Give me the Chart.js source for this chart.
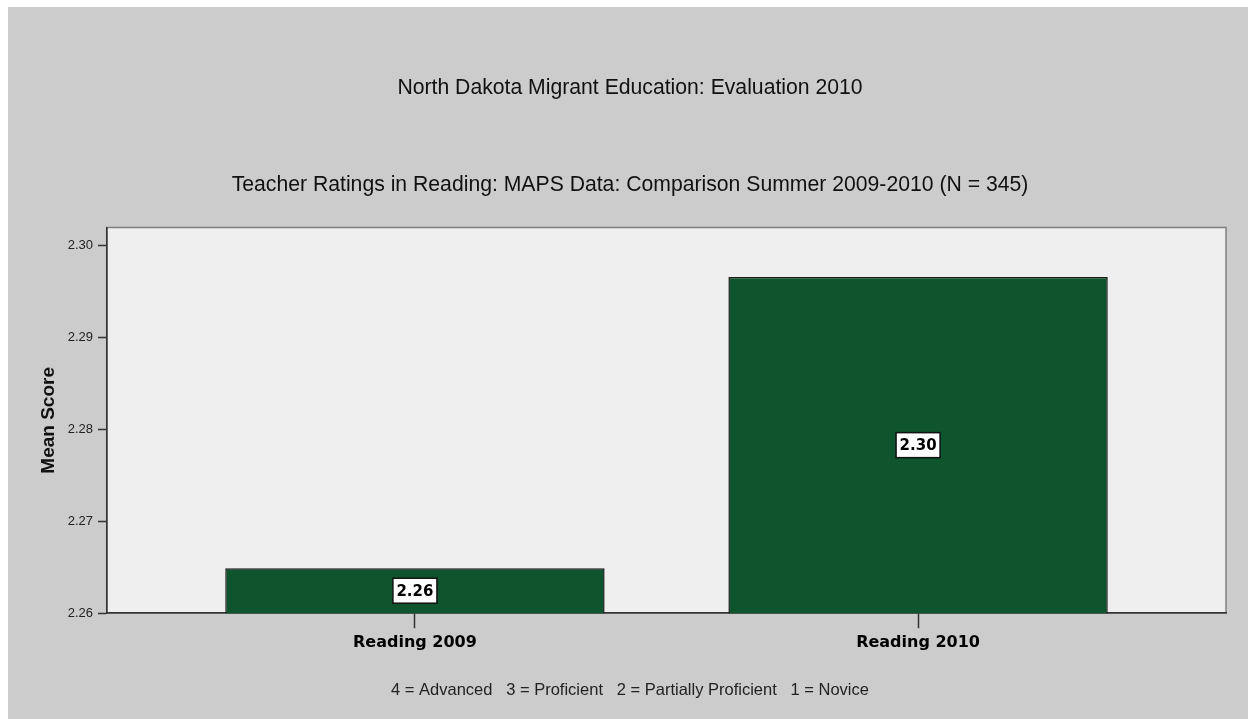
<!DOCTYPE html>
<html lang="en">

<head>
    <meta charset="UTF-8">
    <title>North Dakota Migrant Education: Evaluation 2010</title>
    <script src="https://cdn.jsdelivr.net/npm/chart.js@4.4.0/dist/chart.umd.min.js"></script>
    <style>
        body { margin: 0; background: #ffffff; }
        #chart { position: absolute; left: 8px; top: 7px; }
    </style>
</head>

<body>

    <canvas id="chart" width="1240" height="712"></canvas>

    <script>
        // values
        const categories = ['Reading 2009', 'Reading 2010'];
        const positions = [1, 2];
        const meanScores = [2.2649, 2.2966];
        const yTicks = [2.26, 2.27, 2.28, 2.29, 2.30];

        const chartTitle = 'North Dakota Migrant Education: Evaluation 2010';
        const chartSubtitle = 'Teacher Ratings in Reading: MAPS Data: Comparison Summer 2009-2010 (N = 345)';
        const footnote = '4 = Advanced   3 = Proficient   2 = Partially Proficient   1 = Novice';

        // grey page, light plot area with a frame
        const backdrop = {
            id: 'backdrop',
            beforeDraw(chart) {
                const { ctx, chartArea: a } = chart;
                ctx.save();
                ctx.fillStyle = '#cccccc';
                ctx.fillRect(0, 0, chart.width, chart.height);
                ctx.fillStyle = '#efefef';
                ctx.fillRect(a.left, a.top, a.right - a.left, a.bottom - a.top);
                ctx.strokeStyle = '#7f7f7f';
                ctx.lineWidth = 1.5;
                ctx.strokeRect(a.left, a.top, a.right - a.left, a.bottom - a.top);
                ctx.restore();
            }
        };

        // boxed value in the middle of each bar
        const valueBoxes = {
            id: 'valueBoxes',
            afterDraw(chart) {
                const c = chart.ctx;
                const xs = chart.scales.x;
                const ys = chart.scales.y;
                c.save();
                c.font = 'bold 15px "DejaVu Sans"';
                c.textAlign = 'center';
                c.textBaseline = 'middle';
                meanScores.forEach((v, i) => {
                    const text = v.toFixed(2);
                    const cx = xs.getPixelForValue(positions[i]);
                    const cy = (ys.getPixelForValue(v) + ys.getPixelForValue(ys.min)) / 2;
                    const w = c.measureText(text).width + 7;
                    const h = 25;
                    c.fillStyle = '#ffffff';
                    c.fillRect(cx - w / 2, cy - h / 2, w, h);
                    c.strokeStyle = '#111111';
                    c.lineWidth = 1.5;
                    c.strokeRect(cx - w / 2, cy - h / 2, w, h);
                    c.fillStyle = '#000000';
                    c.fillText(text, cx, cy + 1);
                });
                c.restore();
            }
        };

        const ctx = document.getElementById('chart').getContext('2d');

        const chart = new Chart(ctx, {
            type: 'bar',
            data: {
                datasets: [{
                    data: positions.map((p, i) => ({ x: p, y: meanScores[i] })),
                    backgroundColor: '#0e552e',
                    borderColor: '#1a1a1a',
                    borderWidth: 1.5,
                    borderSkipped: false,
                    barPercentage: 0.754,
                    categoryPercentage: 1.0
                }]
            },
            options: {
                responsive: false,
                animation: false,
                layout: { padding: { left: 26, right: 22, top: 0, bottom: 0 } },
                plugins: {
                    legend: { display: false },
                    tooltip: { enabled: false },
                    title: {
                        display: true,
                        text: [chartTitle, '', chartSubtitle],
                        color: '#111111',
                        font: { family: '"Liberation Sans", Arial', size: 21.2, weight: 'normal', lineHeight: '48.5px' },
                        padding: { top: 57, bottom: 18 }
                    },
                    subtitle: {
                        display: true,
                        position: 'bottom',
                        text: footnote,
                        color: '#222222',
                        font: { family: '"Liberation Sans", Arial', size: 16.5, weight: 'normal' },
                        padding: { top: 0, bottom: 19 }
                    }
                },
                scales: {
                    x: {
                        type: 'linear',
                        offset: false,
                        min: 0.388,
                        max: 2.612,
                        afterBuildTicks: scale => {
                            scale.ticks = positions.map(p => ({ value: p }));
                        },
                        afterFit: scale => { scale.height = 67; },
                        ticks: {
                            autoSkip: false,
                            maxRotation: 0,
                            padding: 5,
                            color: '#000000',
                            font: { family: '"DejaVu Sans"', size: 16, weight: 'bold' },
                            callback: value => categories[positions.indexOf(value)]
                        },
                        grid: { offset: false, drawOnChartArea: false, tickLength: 15, tickColor: '#333333', tickWidth: 1.5 },
                        border: { display: true, color: '#333333', width: 1.5 }
                    },
                    y: {
                        min: 2.26,
                        max: 2.302,
                        afterBuildTicks: scale => {
                            scale.ticks = yTicks.map(v => ({ value: v }));
                        },
                        afterFit: scale => { scale.width = 73; },
                        ticks: {
                            padding: 5,
                            color: '#222222',
                            font: { family: '"Liberation Sans", Arial', size: 13 },
                            callback: value => value.toFixed(2)
                        },
                        grid: { drawOnChartArea: false, tickLength: 9, tickColor: '#333333', tickWidth: 1.5 },
                        border: { display: true, color: '#333333', width: 1.5 },
                        title: {
                            display: true,
                            text: 'Mean Score',
                            color: '#111111',
                            font: { family: '"Liberation Sans", Arial', size: 19, weight: 'bold' },
                            padding: { top: 3, bottom: 0 }
                        }
                    }
                }
            },
            plugins: [backdrop, valueBoxes]
        });
    </script>
</body>

</html>
